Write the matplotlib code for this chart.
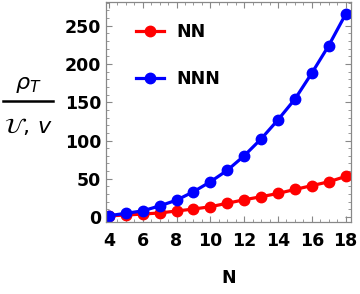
import matplotlib
matplotlib.use("Agg")
import matplotlib.pyplot as plt
from matplotlib.lines import Line2D
from matplotlib.ticker import MultipleLocator

plt.rcParams["font.family"] = "DejaVu Sans"
plt.rcParams["mathtext.fontset"] = "dejavusans"

# values
N = [4, 5, 6, 7, 8, 9, 10, 11, 12, 13, 14, 15, 16, 17, 18]
nn = [1.5, 2.6, 3.8, 5.3, 7.8, 10.4, 13.4, 18.0, 22.5, 26.5, 30.8, 36.0, 41.0, 46.0, 53.0]
nnn = [1.7, 4.8, 8.0, 14.5, 22.0, 33.0, 46.0, 61.0, 80.0, 102.0, 127.0, 154.0, 188.0, 224.0, 265.0]
xticks = [4, 6, 8, 10, 12, 14, 16, 18]
yticks = [0, 50, 100, 150, 200, 250]

fig = plt.figure(figsize=(3.6, 2.94), dpi=100)
ax = fig.add_axes([0.294, 0.245, 0.681, 0.748])

ax.plot(N, nn, '-o', color='#ff0000', lw=2.3, ms=7.5, label='NN')
ax.plot(N, nnn, '-o', color='#0000ff', lw=2.3, ms=7.5, label='NNN')

ax.set_xlim(3.82, 18.32)
ax.set_ylim(-6.5, 281)
ax.set_xticks(xticks)
ax.set_yticks(yticks)
ax.xaxis.set_minor_locator(MultipleLocator(0.5))
ax.yaxis.set_minor_locator(MultipleLocator(10))
ax.tick_params(which='both', direction='in', top=True, right=True, color='#888888')
ax.tick_params(which='major', length=4.5, width=0.8)
ax.tick_params(which='minor', length=2.5, width=0.6)
ax.tick_params(axis='x', pad=7)
ax.tick_params(axis='y', pad=3.5)
for lab in ax.get_xticklabels() + ax.get_yticklabels():
    lab.set_fontsize(12.5)
    lab.set_fontweight('bold')
for sp in ax.spines.values():
    sp.set_color('#888888')
    sp.set_linewidth(0.9)

ax.set_xlabel('N', fontsize=12.5, fontweight='bold', labelpad=14)

leg = ax.legend(loc='upper left', bbox_to_anchor=(0.06, 0.975), frameon=False,
                handlelength=1.6, handletextpad=0.7, labelspacing=1.65,
                prop={'size': 12.5, 'weight': 'bold'})

# y label drawn as a stacked fraction
fig.text(28 / 360, 1 - 85 / 294, r'$\rho_T$', fontsize=16, ha='center', va='center')
fig.add_artist(Line2D([3 / 360, 53 / 360], [1 - 101 / 294, 1 - 101 / 294],
                      color='black', lw=1.8, transform=fig.transFigure))
fig.text(28 / 360, 1 - 127 / 294, r'$\mathcal{U},\, v$', fontsize=16, ha='center', va='center')

fig.savefig('out.png', dpi=100)
